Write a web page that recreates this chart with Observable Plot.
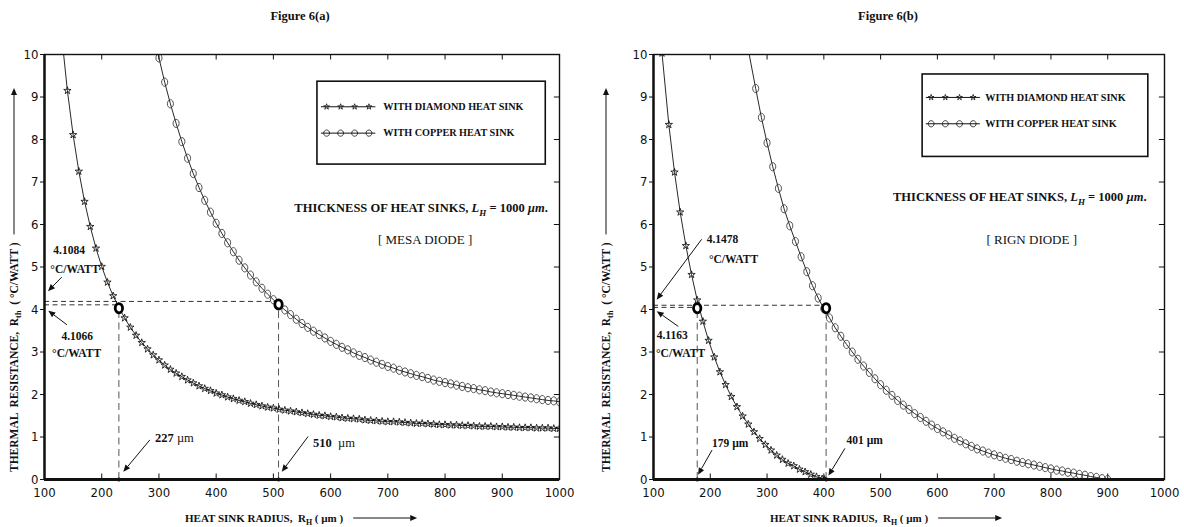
<!DOCTYPE html>
<html><head><meta charset="utf-8">
<script src="https://cdn.jsdelivr.net/npm/d3@7"></script>
<script src="https://cdn.jsdelivr.net/npm/@observablehq/plot@0.6"></script>
<style>
html,body{margin:0;padding:0;background:#fff;}
#page{position:relative;width:1184px;height:527px;overflow:hidden;background:#fff;}
.panel{position:absolute;top:0;width:592px;height:527px;}
.fig{position:absolute;top:9px;font:bold 12.5px "Liberation Serif","Times New Roman",serif;color:#111;transform:translateX(-50%);white-space:nowrap;}
</style></head><body>
<div id="page">
 <div id="pa" class="panel" style="left:0"></div>
 <div id="pb" class="panel" style="left:592px"></div>
 <div class="fig" style="left:300px">Figure 6(a)</div>
 <div class="fig" style="left:888px">Figure 6(b)</div>
</div>
<script>
// ---------- axis ticks ----------
const xTicks = [100,200,300,400,500,600,700,800,900,1000];
const yTicks = [0,1,2,3,4,5,6,7,8,9,10];

// ---------- Figure 6(a) : MESA diode ----------
const mesaDiamondRadius = [130,140,150,160,170,180,190,200,210,220,230,240,250,260,270,280,290,300,310,320,330,340,350,360,370,380,390,400,410,420,430,440,450,460,470,480,490,500,510,520,530,540,550,560,570,580,590,600,610,620,630,640,650,660,670,680,690,700,710,720,730,740,750,760,770,780,790,800,810,820,830,840,850,860,870,880,890,900,910,920,930,940,950,960,970,980,990,1000];
const mesaDiamondRth = [10.45,9.15,8.11,7.25,6.54,5.95,5.44,5.01,4.64,4.32,4.05,3.80,3.58,3.39,3.22,3.07,2.93,2.81,2.69,2.59,2.50,2.42,2.34,2.27,2.20,2.14,2.09,2.03,1.99,1.94,1.90,1.86,1.83,1.79,1.76,1.73,1.70,1.68,1.65,1.63,1.61,1.59,1.57,1.55,1.53,1.51,1.50,1.48,1.47,1.45,1.44,1.43,1.42,1.40,1.39,1.38,1.37,1.36,1.36,1.35,1.34,1.33,1.32,1.32,1.31,1.30,1.29,1.29,1.28,1.28,1.27,1.27,1.26,1.25,1.25,1.25,1.24,1.24,1.23,1.23,1.22,1.22,1.22,1.21,1.21,1.21,1.20,1.20];
const mesaCopperRadius = [290,300,310,320,330,340,350,360,370,380,390,400,410,420,430,440,450,460,470,480,490,500,510,520,530,540,550,560,570,580,590,600,610,620,630,640,650,660,670,680,690,700,710,720,730,740,750,760,770,780,790,800,810,820,830,840,850,860,870,880,890,900,910,920,930,940,950,960,970,980,990,1000];
const mesaCopperRth = [10.54,9.92,9.35,8.84,8.38,7.95,7.56,7.20,6.87,6.57,6.29,6.03,5.79,5.57,5.36,5.16,4.98,4.81,4.65,4.50,4.36,4.23,4.11,3.99,3.88,3.77,3.67,3.58,3.49,3.41,3.33,3.25,3.18,3.11,3.05,2.98,2.92,2.87,2.81,2.76,2.71,2.66,2.62,2.57,2.53,2.49,2.45,2.42,2.38,2.34,2.31,2.28,2.25,2.22,2.19,2.16,2.14,2.11,2.09,2.06,2.04,2.02,2.00,1.98,1.96,1.94,1.92,1.90,1.88,1.86,1.85,1.83];

// ---------- Figure 6(b) : RIGN diode ----------
const rignDiamondRadius = [115,127,137,147,157,167,177,187,197,207,217,227,237,247,257,267,277,287,297,307,317,327,337,347,357,367,377,387,397,401];
const rignDiamondRth = [10.03,8.35,7.23,6.29,5.50,4.82,4.22,3.72,3.27,2.88,2.53,2.23,1.95,1.71,1.49,1.30,1.12,0.96,0.82,0.69,0.57,0.47,0.38,0.32,0.24,0.18,0.12,0.065,0.015,0];
const rignCopperRadius = [265,280,290,300,310,320,330,340,350,360,370,380,390,400,410,420,430,440,450,460,470,480,490,500,510,520,530,540,550,560,570,580,590,600,610,620,630,640,650,660,670,680,690,700,710,720,730,740,750,760,770,780,790,800,810,820,830,840,850,860,870,880,890,900];
const rignCopperRth = [10.25,9.20,8.52,7.92,7.36,6.85,6.37,5.97,5.60,5.24,4.89,4.56,4.27,4.02,3.80,3.57,3.37,3.18,3.00,2.83,2.67,2.52,2.37,2.23,2.10,1.98,1.86,1.75,1.65,1.55,1.46,1.37,1.28,1.20,1.12,1.05,0.97,0.91,0.84,0.78,0.72,0.67,0.62,0.58,0.54,0.50,0.47,0.43,0.40,0.37,0.34,0.31,0.28,0.25,0.22,0.20,0.17,0.15,0.12,0.10,0.07,0.05,0.02,0.0];

// ---------- marked operating points ----------
const mesaMarkRadius = [230, 509];
const mesaMarkRth = [4.03, 4.12];
const mesaGuideRth = [4.11, 4.19];
const rignMarkRadius = [177, 404];
const rignMarkRth = [4.03, 4.03];
const rignGuideRth = [4.05, 4.10];

// ---------- labels ----------
const legendLabels = ["WITH DIAMOND HEAT SINK", "WITH COPPER HEAT SINK"];
const yTitle = [{t:"THERMAL  RESISTANCE,  R"},{t:"th",sub:true},{t:"  ( °C/WATT )"}];
const xTitle = [{t:"HEAT SINK RADIUS,  R"},{t:"H",sub:true},{t:" ( µm )"}];
const thickness = [{t:"THICKNESS OF HEAT SINKS, "},{t:"L",i:true},{t:"H",sub:true,i:true},{t:" = 1000 "},{t:"µm",i:true},{t:"."}];

const mesaNotes = [
  {x:144, y:5.40, anchor:"middle", parts:[{t:"4.1084"}]},
  {x:154, y:4.95, anchor:"middle", parts:[{t:"°C/WATT"}]},
  {x:158, y:3.37, anchor:"middle", parts:[{t:"4.1066"}]},
  {x:157, y:2.96, anchor:"middle", parts:[{t:"°C/WATT"}]},
  {x:294, y:0.97, anchor:"start", parts:[{t:"227 "},{t:"µm",w:"normal"}], size:12.5},
  {x:570, y:0.85, anchor:"start", parts:[{t:"510  "},{t:"µm",w:"normal"}], size:12.5},
  {x:759, y:6.39, anchor:"middle", parts:thickness, size:12.5},
  {x:766, y:5.64, anchor:"middle", parts:[{t:"[ MESA DIODE ]", w:"normal"}], size:13}
];
const mesaArrows = [
  {x1:131, y1:4.75, x2:107, y2:4.42},
  {x1:140, y1:3.63, x2:107.5, y2:3.96},
  {x1:285, y1:0.92, x2:238.6, y2:0.17},
  {x1:561.5, y1:1.0, x2:515.5, y2:0.17}
];
const rignNotes = [
  {x:194.5, y:5.65, anchor:"start", parts:[{t:"4.1478"}]},
  {x:198.6, y:5.18, anchor:"start", parts:[{t:"°C/WATT"}]},
  {x:106.5, y:3.40, anchor:"start", parts:[{t:"4.1163"}]},
  {x:105.3, y:2.96, anchor:"start", parts:[{t:"°C/WATT"}]},
  {x:204, y:0.84, anchor:"start", parts:[{t:"179 µm"}]},
  {x:441, y:0.92, anchor:"start", parts:[{t:"401 µm"}]},
  {x:746, y:6.65, anchor:"middle", parts:thickness, size:12.5},
  {x:767, y:5.64, anchor:"middle", parts:[{t:"[ RIGN DIODE ]", w:"normal"}], size:13}
];
const rignArrows = [
  {x1:185.7, y1:5.64, x2:106.5, y2:4.22},
  {x1:144.5, y1:3.59, x2:106.5, y2:3.95},
  {x1:204, y1:0.68, x2:179.3, y2:0.10},
  {x1:438, y1:0.72, x2:409, y2:0.08}
];

const SERIF = '"Liberation Serif","Times New Roman",serif';
const NARROW = '"Liberation Sans Narrow","Arial Narrow","DejaVu Sans Condensed",sans-serif';

function ellipse(k) {
  return {draw(ctx, size) {
    const r = Math.sqrt(size / Math.PI), rx = r * k, ry = r, c = 0.5523;
    ctx.moveTo(rx, 0);
    ctx.bezierCurveTo(rx, ry*c, rx*c, ry, 0, ry);
    ctx.bezierCurveTo(-rx*c, ry, -rx, ry*c, -rx, 0);
    ctx.bezierCurveTo(-rx, -ry*c, -rx*c, -ry, 0, -ry);
    ctx.bezierCurveTo(rx*c, -ry, rx, -ry*c, rx, 0);
    ctx.closePath();
  }};
}

function richText(g, x, y, parts, o = {}) {
  const size = o.size || 11.5;
  const t = g.append("text").attr("x", x).attr("y", y)
    .attr("text-anchor", o.anchor || "start")
    .attr("font-family", SERIF).attr("font-weight", "bold")
    .attr("font-size", size).attr("fill", "#111");
  if (o.transform) t.attr("transform", o.transform);
  let shift = 0;
  for (const p of parts) {
    const s = t.append("tspan").text(p.t);
    const target = p.sub ? size * 0.3 : 0;
    if (target !== shift) { s.attr("dy", target - shift); shift = target; }
    if (p.sub) s.attr("font-size", size * 0.72);
    if (p.i) s.attr("font-style", "italic");
    if (p.w) s.attr("font-weight", p.w);
  }
  return t;
}

function arrowPath(g, x1, y1, x2, y2) {
  const a = Math.atan2(y2 - y1, x2 - x1), L = 7, w = 3;
  const bx = x2 - L * Math.cos(a), by = y2 - L * Math.sin(a);
  g.append("line").attr("x1", x1).attr("y1", y1).attr("x2", bx).attr("y2", by).attr("stroke", "#111").attr("stroke-width", 1);
  g.append("path").attr("d", `M${x2},${y2}L${bx + w*Math.sin(a)},${by - w*Math.cos(a)}L${bx - w*Math.sin(a)},${by + w*Math.cos(a)}Z`).attr("fill", "#111");
}

function build(el, c) {
  const dia = c.diaX.map((x, i) => ({x, y: c.diaY[i]}));
  const cop = c.copX.map((x, i) => ({x, y: c.copY[i]}));
  const marks = c.markX.map((x, i) => ({x, y: c.markY[i], g: c.guideY[i]}));
  const rows = legendLabels.map((label, i) => ({label, y: c.legRows[i]}));
  const inner = xTicks.slice(1, -1), innerY = yTicks.slice(1, -1);
  const svg = Plot.plot({
    width: 592, height: 527,
    marginTop: 54, marginBottom: 48, marginLeft: c.ml, marginRight: c.mr,
    x: {domain: [100, 1000]},
    y: {domain: [0, 10]},
    style: {background: "transparent", color: "#111", fontFamily: NARROW, overflow: "visible"},
    marks: [
      Plot.axisX(xTicks, {tickSize: 0, tickPadding: 8, fontSize: 13, fontFamily: NARROW, tickFormat: d => String(d)}),
      Plot.axisY(yTicks, {tickSize: 4, tickPadding: 2, fontSize: 13, fontFamily: NARROW, tickFormat: d => String(d)}),
      Plot.ruleX(inner, {y1: 0, y2: 0.13, strokeWidth: 1}),
      Plot.ruleX(inner, {y1: 9.87, y2: 10, strokeWidth: 1}),
      Plot.ruleY(innerY, {x1: 991, x2: 1000, strokeWidth: 1}),
      Plot.ruleY(marks, {y: "g", x1: 100, x2: "x", stroke: "#333", strokeWidth: 1, strokeDasharray: "5,3.5"}),
      Plot.ruleX(marks, {x: "x", y1: 0, y2: "y", stroke: "#555", strokeWidth: 1, strokeDasharray: "7,4.5"}),
      Plot.line(dia, {x: "x", y: "y", stroke: "#111", strokeWidth: 0.9, clip: true}),
      Plot.dot(dia, {x: "x", y: "y", symbol: "star", r: 2.3, stroke: "#111", fill: "none", strokeWidth: 0.85, clip: true}),
      Plot.line(cop, {x: "x", y: "y", stroke: "#111", strokeWidth: 0.9, clip: true}),
      Plot.dot(cop, {x: "x", y: "y", symbol: ellipse(0.74), r: 4.1, stroke: "#333", fill: "none", strokeWidth: 0.85, clip: true}),
      Plot.dot(marks, {x: "x", y: "y", symbol: ellipse(0.8), r: 4.6, stroke: "#000", fill: "white", strokeWidth: 2.8}),
      Plot.dot(marks, {x: "x", y: 0, r: 2, fill: "#000", stroke: "none"}),
      Plot.frame({stroke: "#111", strokeWidth: 1.4}),
      Plot.ruleX([100], {stroke: "#111", strokeWidth: 2.4}),
      Plot.ruleY([0], {stroke: "#111", strokeWidth: 3}),
      // legend
      Plot.rect([c.legBox], {x1: "x1", x2: "x2", y1: "y1", y2: "y2", stroke: "#111", strokeWidth: 1.6, fill: "white"}),
      Plot.ruleY(rows, {y: "y", x1: c.legLine[0], x2: c.legLine[1], stroke: "#111", strokeWidth: 1}),
      Plot.dot(c.legMarkers, {x: d => d, y: c.legRows[0], symbol: "star", r: 1.8, stroke: "#111", fill: "none", strokeWidth: 0.8}),
      Plot.dot(c.legMarkers, {x: d => d, y: c.legRows[1], symbol: ellipse(0.95), r: 3.1, stroke: "#111", fill: "none", strokeWidth: 0.8}),
      Plot.text(rows, {x: c.legText, y: "y", text: "label", textAnchor: "start", fontFamily: SERIF, fontWeight: "bold", fontSize: 10.2, fill: "#111"})
    ]
  });
  el.appendChild(svg);
  const sx = svg.scale("x"), sy = svg.scale("y");
  const g = d3.select(svg).append("g");
  for (const a of c.arrows) arrowPath(g, sx.apply(a.x1), sy.apply(a.y1), sx.apply(a.x2), sy.apply(a.y2));
  for (const n of c.notes) {
    const size = n.size || 11.5;
    richText(g, sx.apply(n.x), sy.apply(n.y) + size * 0.35, n.parts, {anchor: n.anchor, size});
  }
  // y title, rotated, with arrow above it
  const yt = richText(g, 0, 0, yTitle, {size: 11.5, transform: "translate(18,472) rotate(-90)"});
  const len = yt.node().getComputedTextLength();
  arrowPath(g, 14, 472 - len - 8, 14, 88);
  // x title with arrow to the right
  const xt = richText(g, c.xTitleX, 522, xTitle, {size: 11});
  const xl = xt.node().getComputedTextLength();
  arrowPath(g, c.xTitleX + xl + 10, 518, c.xTitleX + xl + 74, 518);
}

build(document.getElementById("pa"), {
  ml: 44, mr: 33,
  diaX: mesaDiamondRadius, diaY: mesaDiamondRth,
  copX: mesaCopperRadius, copY: mesaCopperRth,
  markX: mesaMarkRadius, markY: mesaMarkRth, guideY: mesaGuideRth,
  legBox: {x1: 577, x2: 976, y1: 7.41, y2: 9.36},
  legRows: [8.77, 8.15], legLine: [584, 679], legMarkers: [593, 617.5, 642, 667], legText: 692,
  notes: mesaNotes, arrows: mesaArrows, xTitleX: 185
});
build(document.getElementById("pb"), {
  ml: 61, mr: 20,
  diaX: rignDiamondRadius, diaY: rignDiamondRth,
  copX: rignCopperRadius, copY: rignCopperRth,
  markX: rignMarkRadius, markY: rignMarkRth, guideY: rignGuideRth,
  legBox: {x1: 574, x2: 971.5, y1: 7.59, y2: 9.53},
  legRows: [8.99, 8.37], legLine: [580.6, 675.7], legMarkers: [589, 614, 639, 663], legText: 684.5,
  notes: rignNotes, arrows: rignArrows, xTitleX: 178
});
</script>
</body></html>
